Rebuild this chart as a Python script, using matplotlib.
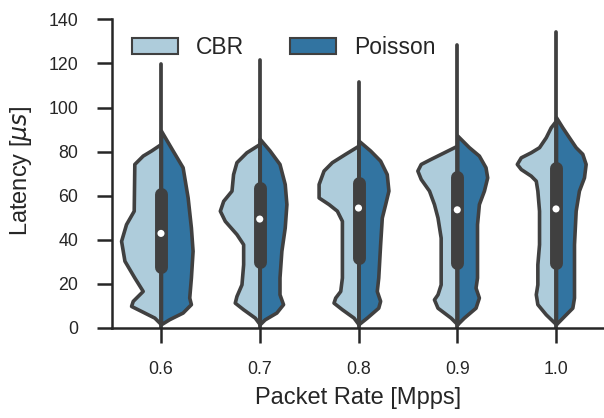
import matplotlib
matplotlib.use('Agg')
import matplotlib.pyplot as plt
from matplotlib.patches import Patch
import seaborn as sns

# categories
rates = ['0.6', '0.7', '0.8', '0.9', '1.0']
series = ['CBR', 'Poisson']

# half-violin outlines: latency level -> half width (category units)
cbr_lat = [
    [83.5, 80.5, 78.2, 74.4, 53.2, 47.1, 39.5, 30.5, 22.9, 16.8, 12.3, 10.0, 7.7, 4.7, 1.7],
    [83.5, 79.7, 75.2, 69.8, 62.3, 57.7, 53.2, 48.6, 42.6, 38.0, 28.9, 19.8, 14.5, 11.5, 8.5, 4.7, 1.7],
    [82.7, 79.0, 75.2, 71.4, 65.3, 59.2, 56.2, 53.2, 48.6, 38.0, 22.9, 16.8, 13.8, 11.5, 8.5, 4.7, 1.7],
    [82.7, 79.7, 76.7, 74.4, 71.4, 67.6, 62.3, 56.2, 50.1, 41.0, 28.9, 19.8, 15.3, 13.0, 9.2, 4.7, 1.7],
    [94.1, 91.0, 86.5, 82.0, 79.7, 77.4, 74.4, 72.1, 69.1, 66.8, 62.3, 53.2, 38.0, 28.9, 19.8, 15.3, 10.8, 6.2, 1.7],
]
cbr_w = [
    [0, .1, .185, .27, .276, .354, .404, .37, .27, .185, .286, .303, .2, .067, 0],
    [0, .135, .236, .27, .286, .37, .404, .354, .236, .168, .168, .185, .236, .253, .168, .05, 0],
    [0, .135, .27, .354, .404, .404, .303, .219, .168, .168, .168, .185, .236, .253, .168, .05, 0],
    [0, .135, .27, .37, .404, .37, .286, .236, .2, .168, .168, .168, .2, .236, .2, .067, 0],
    [0, .054, .104, .172, .256, .357, .397, .357, .256, .205, .189, .172, .172, .189, .189, .205, .189, .104, 0],
]
poisson_lat = [
    [89.5, 80.5, 72.9, 59.2, 45.6, 35.0, 22.9, 13.8, 10.8, 7.0, 4.0, 1.7],
    [85.8, 80.5, 74.4, 65.3, 56.2, 45.6, 35.0, 22.9, 15.3, 10.8, 7.0, 3.9, 1.7],
    [85.0, 80.5, 75.9, 69.8, 62.3, 56.2, 50.1, 38.0, 22.9, 16.8, 12.3, 9.2, 4.7, 1.7],
    [87.3, 82.0, 78.2, 72.9, 68.3, 62.3, 56.2, 47.1, 35.0, 22.9, 18.3, 13.8, 9.2, 4.7, 1.7],
    [95.6, 91.0, 86.5, 82.0, 79.0, 74.4, 68.3, 62.3, 53.2, 38.0, 22.9, 13.8, 9.2, 5.4, 1.7],
]
poisson_w = [
    [0, .118, .219, .27, .303, .32, .303, .286, .303, .219, .084, 0],
    [0, .1, .2, .253, .27, .253, .219, .2, .2, .236, .168, .05, 0],
    [0, .118, .219, .286, .303, .27, .236, .219, .2, .185, .219, .2, .084, 0],
    [0, .118, .219, .286, .303, .27, .219, .2, .2, .2, .185, .219, .185, .067, 0],
    [0, .064, .131, .199, .266, .3, .283, .232, .199, .182, .182, .182, .165, .081, 0],
]

# inner box stats (both series pooled)
q1 = [27.8, 30.1, 31.6, 29.4, 29.4]
median = [42.9, 49.4, 54.4, 53.6, 54.0]
q3 = [60.8, 63.3, 65.6, 68.7, 72.4]
lat_min = [0, 0, 0, 0, 0]
lat_max = [119.9, 121.4, 111.5, 128.2, 134.2]

sns.set_style('ticks')
plt.rcParams['font.family'] = ['Liberation Sans', 'DejaVu Sans']

pal = [sns.desaturate(c, .75) for c in sns.color_palette('Paired', 2)]
gray = '#404040'
dark = '#262626'

fig = plt.figure(figsize=(6.04, 4.18), dpi=100)
ax = fig.add_axes([111.6 / 604, 90 / 418, 493.8 / 604, 308.7 / 418])

for i in range(len(rates)):
    ax.fill_betweenx(cbr_lat[i], [i - w for w in cbr_w[i]], i,
                     facecolor=pal[0], edgecolor=gray, linewidth=2.6, joinstyle='round', zorder=1)
    ax.fill_betweenx(poisson_lat[i], i, [i + w for w in poisson_w[i]],
                     facecolor=pal[1], edgecolor=gray, linewidth=2.6, joinstyle='round', zorder=1)
    # whisker / tail line
    ax.plot([i, i], [lat_min[i], lat_max[i]], color=gray, linewidth=2.7,
            solid_capstyle='round', zorder=2)
    # interquartile box
    ax.plot([i, i], [q1[i], q3[i]], color=gray, linewidth=9.3,
            solid_capstyle='round', zorder=3)
    ax.scatter([i], [median[i]], s=26, color='white', edgecolor='none', zorder=4)

ax.set_xlim(-0.5, 4.5)
ax.set_ylim(0, 140)
ax.set_xticks(range(len(rates)))
ax.set_xticklabels(rates)
ax.set_yticks(range(0, 141, 20))
ax.tick_params(length=11, width=1.8, pad=13, labelsize=12.8, color=dark, labelcolor=dark)
for s in ['left', 'bottom']:
    ax.spines[s].set_linewidth(1.8)
    ax.spines[s].set_color(dark)
sns.despine(ax=ax)

ax.set_xlabel('Packet Rate [Mpps]', fontsize=17, color=dark)
ax.set_ylabel(r'Latency [$\mu s$]', fontsize=17, color=dark)
ax.xaxis.set_label_coords(0.5, -0.191)
ax.yaxis.set_label_coords(-0.158, 0.51)

handles = [Patch(facecolor=pal[k], edgecolor=gray, linewidth=1.5, label=series[k]) for k in range(2)]
ax.legend(handles=handles, ncol=2, frameon=False, fontsize=16.5, loc='upper left',
          bbox_to_anchor=(0.023, 0.977), borderaxespad=0)

fig.savefig('out.png', dpi=100)
